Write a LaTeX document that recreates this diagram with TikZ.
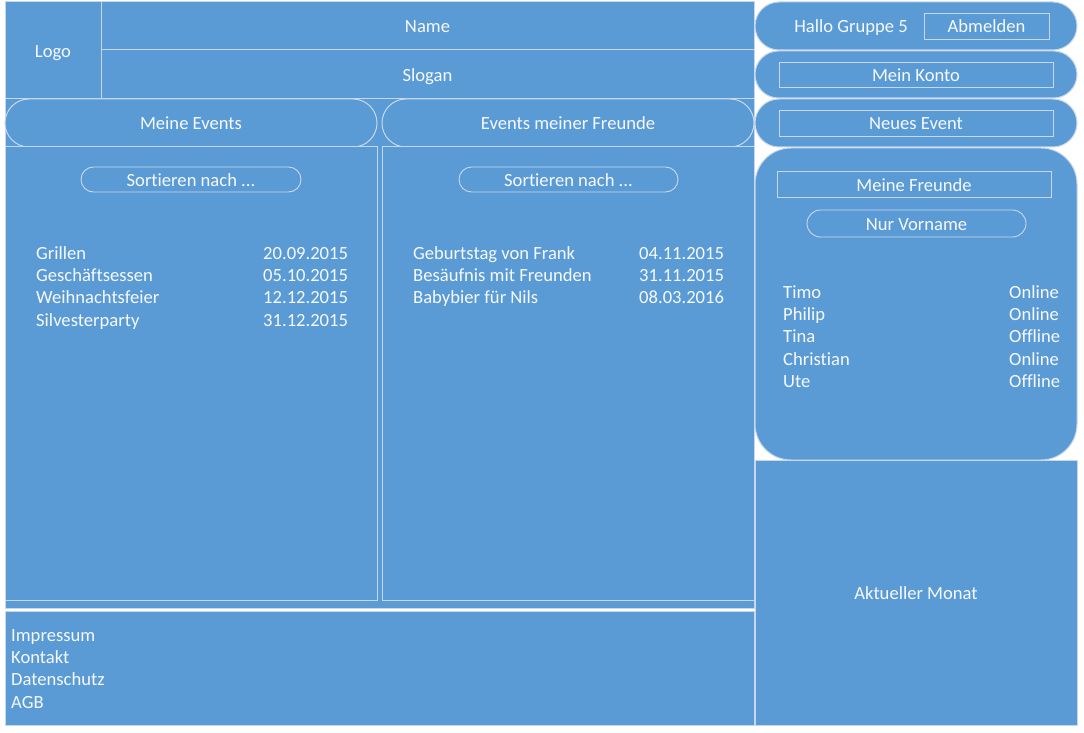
\documentclass[tikz,border=0pt]{standalone}
\usepackage{fontspec}
\setmainfont{Carlito}[Ligatures=NoCommon]
\usetikzlibrary{fit}
\definecolor{ublue}{RGB}{91,155,213}
\definecolor{uline}{RGB}{200,216,236}
\definecolor{utext}{RGB}{246,249,253}
\begin{document}
\begin{tikzpicture}[x=1pt,y=-1pt,
  area/.style={fit={#1}, inner sep=0pt, draw=uline, line width=1pt, fill=ublue},
  rarea/.style 2 args={area={#1}, rounded corners=#2},
  btn/.style={fit={#1}, inner sep=0pt, draw=uline, line width=0.9pt},
  rbtn/.style 2 args={btn={#1}, rounded corners=#2},
  lbl/.style={text=utext, font=\fontsize{18.6}{22.4}\selectfont, inner sep=0pt, text height=12pt, text depth=0pt, yshift=-1pt},
  item/.style={text=utext, font=\fontsize{18.6}{22.4}\selectfont, inner sep=0pt, anchor=base west}]
\fill[white] (0,0) rectangle (1084,733);
\useasboundingbox (0,0) rectangle (1084,733);
% left background
\node[area={(5,2) (754,608)}] (bg) {};
\node[area={(5,2) (101,99)}] (logo) {};
\node[area={(101,2) (754,50)}] (name) {};
\node[area={(101,50) (754,99)}] (slogan) {};
\node[rarea={(5,99) (377,147)}{24}] (myev) {};
\node[rarea={(382,99) (754,147)}{24}] (frev) {};
\node[area={(5,147) (377,600)}] (lpanel) {};
\node[area={(382,147) (754,600)}] (rpanel) {};
\node[area={(5,611) (754,725)}] (footer) {};
% right column
\node[rarea={(755,2) (1077,50)}{24}] (hallo) {};
\node[rarea={(755,51) (1077,98)}{23.5}] (konto) {};
\node[rarea={(755,99) (1077,147)}{24}] (neu) {};
\node[rarea={(755,148) (1077,460)}{36}] (freunde) {};
\node[area={(755,460) (1077,725)}] (monat) {};
% buttons
\node[btn={(924,13) (1049,39)}] (abm) {};
\node[btn={(779,62) (1053,87)}] (kontob) {};
\node[btn={(779,110) (1053,136)}] (neub) {};
\node[btn={(777,171) (1051,197)}] (freundeb) {};
\node[rbtn={(807,210) (1026,237)}{13.5}] (vorname) {};
\node[rbtn={(81,167) (301,192)}{12.5}] (sortl) {};
\node[rbtn={(459,167) (678,192)}{12.5}] (sortr) {};
% labels
\node[lbl] (tlogo) at (logo.center) {Logo};
\node[lbl] (tname) at (name.center) {Name};
\node[lbl] (tslogan) at (slogan.center) {Slogan};
\node[lbl] (tmyev) at (myev.center) {Meine Events};
\node[lbl] (tfrev) at (frev.center) {Events meiner Freunde};
\node[lbl] (thallo) at (851,26) {Hallo Gruppe 5};
\node[lbl] (tabm) at (abm.center) {Abmelden};
\node[lbl] (tkonto) at (kontob.center) {Mein Konto};
\node[lbl] (tneu) at (neub.center) {Neues Event};
\node[lbl] (tfreunde) at (freundeb.center) {Meine Freunde};
\node[lbl] (tvorname) at (vorname.center) {Nur Vorname};
\node[lbl] (tsortl) at (sortl.center) {Sortieren nach ...};
\node[lbl] (tsortr) at (sortr.center) {Sortieren nach ...};
\node[lbl] (tmonat) at (monat.center) {Aktueller Monat};
% left list
\node[item] (l1) at (36,259) {Grillen};
\node[item] (l2) at (36,281.4) {Geschäftsessen};
\node[item] (l3) at (36,303.8) {Weihnachtsfeier};
\node[item] (l4) at (36,326.2) {Silvesterparty};
\node[item] (d1) at (263,259) {20.09.2015};
\node[item] (d2) at (263,281.4) {05.10.2015};
\node[item] (d3) at (263,303.8) {12.12.2015};
\node[item] (d4) at (263,326.2) {31.12.2015};
% right list
\node[item] (r1) at (413,259) {Geburtstag von Frank};
\node[item] (r2) at (413,281.4) {Besäufnis mit Freunden};
\node[item] (r3) at (413,303.8) {Babybier für Nils};
\node[item] (e1) at (639,259) {04.11.2015};
\node[item] (e2) at (639,281.4) {31.11.2015};
\node[item] (e3) at (639,303.8) {08.03.2016};
% friends
\node[item] (f1) at (783,298) {Timo};
\node[item] (f2) at (783,320.4) {Philip};
\node[item] (f3) at (783,342.8) {Tina};
\node[item] (f4) at (783,365.2) {Christian};
\node[item] (f5) at (783,387.6) {Ute};
\node[item] (s1) at (1009,298) {Online};
\node[item] (s2) at (1009,320.4) {Online};
\node[item] (s3) at (1009,342.8) {Offline};
\node[item] (s4) at (1009,365.2) {Online};
\node[item] (s5) at (1009,387.6) {Offline};
% footer
\node[item] (ft1) at (11,641) {Impressum};
\node[item] (ft2) at (11,663.4) {Kontakt};
\node[item] (ft3) at (11,685.8) {Datenschutz};
\node[item] (ft4) at (11,708.2) {AGB};
\end{tikzpicture}
\end{document}
